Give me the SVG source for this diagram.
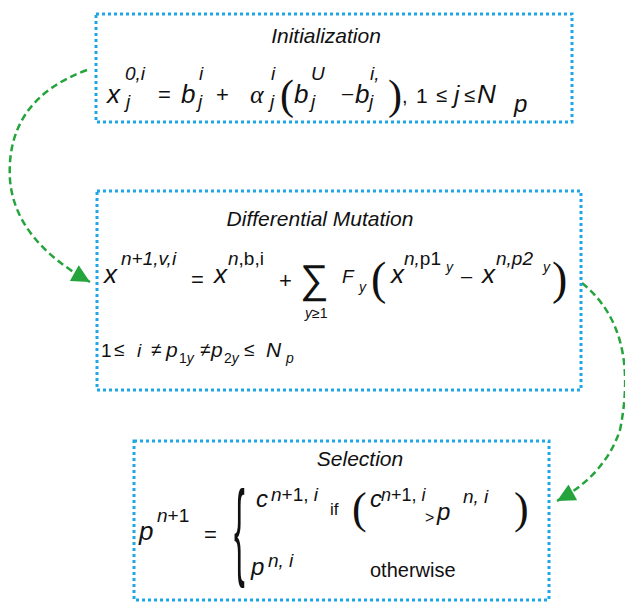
<svg xmlns="http://www.w3.org/2000/svg" width="625" height="605" viewBox="0 0 625 605">
<style>
.box{fill:none;stroke:#1ea7e6;stroke-width:3;stroke-dasharray:3 3}
.conn{fill:none;stroke:#25a43c;stroke-width:2.5;stroke-dasharray:7 4}
.t{font-family:"Liberation Sans",Arial,sans-serif;fill:#111}
.ti{font-family:"Liberation Sans",Arial,sans-serif;font-style:italic;fill:#111}
.title{font-family:"Liberation Sans",Arial,sans-serif;font-style:italic;font-size:21px;fill:#111;text-anchor:middle}
.s{font-family:"Liberation Serif","Times New Roman",serif;fill:#111}
.m{font-size:26px}
.sup{font-size:19px}
.sm{font-size:14px}
.op{font-size:22px}
</style>
<defs>
<marker id="ah" viewBox="0 0 10 10" refX="10" refY="5" markerUnits="userSpaceOnUse" markerWidth="22" markerHeight="18" orient="auto">
<path d="M0,0 L10,5 L0,10 z" fill="#25a43c"/>
</marker>
</defs>
<rect width="625" height="605" fill="#fff"/>
<g id="connectors">
<path class="conn" d="M87,70 Q5,100 10,180 Q15,240 90,282" marker-end="url(#ah)"/>
<path class="conn" d="M582,283 Q640,330 620,430 Q605,475 557,501" marker-end="url(#ah)"/>
</g>
<g id="initialization">
<rect class="box" x="96" y="14" width="476" height="108"/>
<text class="title" x="326" y="43">Initialization</text>
<text class="ti m" x="107" y="103">x</text>
<text class="ti sup" x="125" y="80">0,i</text>
<text class="ti sup" x="126" y="108">j</text>
<text class="t op" x="158" y="102">=</text>
<text class="ti m" x="181" y="103">b</text>
<text class="ti sup" x="199" y="80">i</text>
<text class="ti sup" x="198" y="108">j</text>
<text class="t op" x="216" y="102">+</text>
<text class="s m" x="250" y="103" font-style="italic">α</text>
<text class="ti sup" x="271" y="80">i</text>
<text class="ti sup" x="270" y="108">j</text>
<text class="s" x="280" y="109" font-size="42">(</text>
<text class="ti m" x="294" y="103">b</text>
<text class="ti sup" x="311" y="80">U</text>
<text class="ti sup" x="311" y="108">j</text>
<text class="t" x="342" y="100" font-size="20">–</text>
<text class="ti m" x="355" y="103">b</text>
<text class="ti sup" x="370" y="80">i,</text>
<text class="ti sup" x="369" y="108">j</text>
<text class="s" x="388" y="109" font-size="42">)</text>
<text class="t" x="402" y="103" font-size="20">,</text>
<text class="t" x="416" y="103" font-size="21">1</text>
<text class="t" x="436" y="102" font-size="20">≤</text>
<text class="ti" x="454" y="103" font-size="24">j</text>
<text class="t" x="464" y="102" font-size="20">≤</text>
<text class="ti m" x="477" y="103">N</text>
<text class="ti" x="514" y="112" font-size="24">p</text>
</g>
<g id="mutation">
<rect class="box" x="97" y="191" width="484" height="199"/>
<text class="title" x="320" y="226">Differential Mutation</text>
<text class="ti m" x="104" y="283">x</text>
<text class="ti sup" x="121" y="265">n+1,v,i</text>
<text class="t op" x="191" y="287">=</text>
<text class="ti m" x="214" y="283">x</text>
<text class="t sup" x="228" y="265"><tspan font-style="italic">n</tspan>,b,i</text>
<text class="t op" x="279" y="288">+</text>
<text class="t" x="300" y="293" font-size="40">∑</text>
<text class="t sm" x="305" y="318"><tspan font-style="italic">y</tspan>≥1</text>
<text class="ti" x="342" y="283" font-size="19">F</text>
<text class="ti sm" x="359" y="292">y</text>
<text class="s" x="371" y="294" font-size="46">(</text>
<text class="ti m" x="391" y="283">x</text>
<text class="t sup" x="404" y="265"><tspan font-style="italic">n,</tspan>p1</text>
<text class="ti sm" x="446" y="272">y</text>
<text class="t" x="461" y="283" font-size="20">–</text>
<text class="ti m" x="482" y="283">x</text>
<text class="ti sup" x="496" y="265">n,p2</text>
<text class="ti sm" x="543" y="272">y</text>
<text class="s" x="552" y="294" font-size="46">)</text>
<text class="t" x="101" y="357" font-size="19">1</text>
<text class="t" x="114" y="356" font-size="19">≤</text>
<text class="ti" x="137" y="357" font-size="19">i</text>
<text class="t" x="151" y="356" font-size="19">≠</text>
<text class="ti" x="166" y="357" font-size="21">p</text>
<text class="t sm" x="179" y="363">1<tspan font-style="italic">y</tspan></text>
<text class="t" x="200" y="356" font-size="19">≠</text>
<text class="ti" x="211" y="357" font-size="21">p</text>
<text class="t sm" x="224" y="363">2<tspan font-style="italic">y</tspan></text>
<text class="t" x="244" y="356" font-size="19">≤</text>
<text class="ti" x="266" y="357" font-size="21">N</text>
<text class="ti sm" x="286" y="363">p</text>
</g>
<g id="selection">
<rect class="box" x="134" y="441" width="415" height="159"/>
<text class="title" x="360" y="466">Selection</text>
<text class="ti" x="139" y="540" font-size="26">p</text>
<text class="t sup" x="157" y="522"><tspan font-style="italic">n</tspan>+1</text>
<text class="t op" x="204" y="542">=</text>
<text class="t" x="0" y="0" font-size="108" transform="translate(234,566) scale(0.3,1)">{</text>
<text class="ti" x="256" y="507" font-size="24">c</text>
<text class="t sup" x="271" y="501"><tspan font-style="italic">n</tspan>+1, <tspan font-style="italic">i</tspan></text>
<text class="t" x="330" y="515" font-size="17">if</text>
<text class="s" x="352" y="523" font-size="44">(</text>
<text class="ti" x="370" y="507" font-size="24">c</text>
<text class="t" x="381" y="501" font-size="18"><tspan font-style="italic">n</tspan>+1, <tspan font-style="italic">i</tspan></text>
<text class="t" x="425" y="523" font-size="16">&gt;</text>
<text class="ti" x="437" y="520" font-size="24">p</text>
<text class="ti sup" x="463" y="503">n, i</text>
<text class="s" x="514" y="523" font-size="44">)</text>
<text class="ti" x="251" y="575" font-size="24">p</text>
<text class="ti sup" x="268" y="567">n, i</text>
<text class="t" x="370" y="577" font-size="20">otherwise</text>
</g>
</svg>
